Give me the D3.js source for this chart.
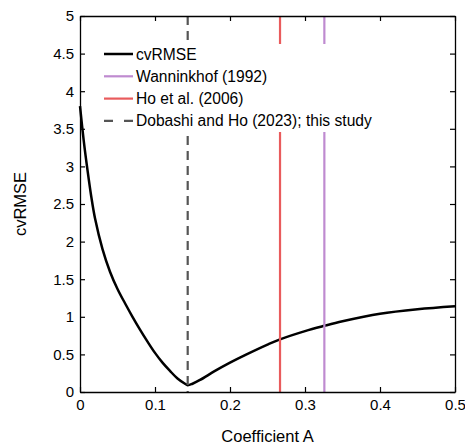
<!DOCTYPE html>
<html>
<head>
<meta charset="utf-8">
<script src="https://cdn.jsdelivr.net/npm/d3@7"></script>
<style>
  body { margin: 0; background: #fff; }
  svg { font-family: "Liberation Sans", Arial, sans-serif; }
</style>
</head>
<body>
<div id="chart"></div>
<script>
// cvRMSE gegen Koeffizient A
const coefA = [0, 0.005, 0.01, 0.015, 0.02, 0.03, 0.04, 0.05, 0.06, 0.07, 0.08, 0.09, 0.10, 0.11, 0.12, 0.13, 0.14, 0.1436,
    0.15, 0.16, 0.18, 0.20, 0.22, 0.25, 0.2667, 0.30, 0.3258, 0.35, 0.40, 0.45, 0.50];
const cvRMSE = [3.80, 3.34, 2.95, 2.60, 2.31, 1.90, 1.60, 1.37, 1.18, 1.00, 0.83, 0.67, 0.52, 0.39, 0.28, 0.18, 0.11, 0.09,
    0.11, 0.16, 0.28, 0.39, 0.49, 0.63, 0.70, 0.81, 0.88, 0.94, 1.04, 1.10, 1.14];

const refNames = ["Wanninkhof (1992)", "Ho et al. (2006)", "Dobashi and Ho (2023); this study"];
const refValues = [0.3258, 0.2667, 0.1436];
const refColors = ["#bf8bd0", "#e95b5c", "#555555"];
const refDash = [null, null, "9,6"];

const xTicks = [0, 0.1, 0.2, 0.3, 0.4, 0.5];
const yTicks = [0, 0.5, 1, 1.5, 2, 2.5, 3, 3.5, 4, 4.5, 5];

const W = 465, H = 447;
const m = { left: 80, right: 10, top: 16, bottom: 55 };

const svg = d3.select("#chart").append("svg")
    .attr("width", W)
    .attr("height", H);

const x = d3.scaleLinear().domain([0, 0.5]).range([m.left, W - m.right]);
const y = d3.scaleLinear().domain([0, 5]).range([H - m.bottom, m.top]);

const pts = coefA.map((a, i) => ({ a: a, v: cvRMSE[i] }));

const line = d3.line()
    .x(d => x(d.a))
    .y(d => y(d.v))
    .curve(d3.curveCatmullRom.alpha(0.5));

svg.append("path")
    .datum(pts)
    .attr("d", line)
    .attr("fill", "none")
    .attr("stroke", "#000")
    .attr("stroke-width", 2.5);

// Referenzlinien
refValues.forEach((val, i) => {
    svg.append("line")
        .attr("x1", x(val)).attr("x2", x(val))
        .attr("y1", y(5)).attr("y2", y(0))
        .attr("stroke", refColors[i])
        .attr("stroke-width", 2.2)
        .attr("stroke-dasharray", refDash[i]);
});

// Achsen (Ticks nach innen, auf allen Seiten)
const tickLen = 5;
svg.append("g")
    .attr("transform", `translate(0,${y(0)})`)
    .call(d3.axisBottom(x).tickValues(xTicks).tickSizeInner(-tickLen).tickSizeOuter(0).tickPadding(7)
        .tickFormat(d => d === 0 ? "0" : d3.format(".1f")(d)));
svg.append("g")
    .attr("transform", `translate(0,${y(5)})`)
    .call(d3.axisTop(x).tickValues(xTicks).tickSizeInner(-tickLen).tickSizeOuter(0).tickFormat(""));
svg.append("g")
    .attr("transform", `translate(${x(0)},0)`)
    .call(d3.axisLeft(y).tickValues(yTicks).tickSizeInner(-tickLen).tickSizeOuter(0).tickPadding(6)
        .tickFormat(d => d3.format("~g")(d)));
svg.append("g")
    .attr("transform", `translate(${x(0.5)},0)`)
    .call(d3.axisRight(y).tickValues(yTicks).tickSizeInner(-tickLen).tickSizeOuter(0).tickFormat(""));

svg.selectAll(".domain").attr("stroke", "#000").attr("stroke-width", 1.3);
svg.selectAll(".tick line").attr("stroke", "#000").attr("stroke-width", 1.2);
svg.selectAll(".tick text").attr("font-size", 15).attr("fill", "#000")
    .attr("font-family", "'Liberation Sans', Arial, sans-serif");

// Achsentitel
svg.append("text")
    .attr("x", x(0.25)).attr("y", 442)
    .attr("text-anchor", "middle")
    .attr("font-size", 16.5)
    .text("Coefficient A");
svg.append("text")
    .attr("transform", `translate(26,${y(2.5)}) rotate(-90)`)
    .attr("text-anchor", "middle")
    .attr("font-size", 16.5)
    .text("cvRMSE");

// Legende
const legNames = ["cvRMSE"].concat(refNames);
const legColors = ["#000"].concat(refColors);
const legDash = [null].concat(refDash);
const legend = svg.append("g");
legend.append("rect")
    .attr("x", 95).attr("y", 44)
    .attr("width", 288).attr("height", 88)
    .attr("fill", "#fff");
legNames.forEach((name, i) => {
    const ly = 54 + i * 22.3;
    legend.append("line")
        .attr("x1", 104).attr("x2", 133)
        .attr("y1", ly).attr("y2", ly)
        .attr("stroke", legColors[i])
        .attr("stroke-width", i === 0 ? 2.5 : 2.2)
        .attr("stroke-dasharray", legDash[i] ? "9,11" : null);
    legend.append("text")
        .attr("x", 136).attr("y", ly + 5.5)
        .attr("font-size", 15.6)
        .text(name);
});
</script>
</body>
</html>
